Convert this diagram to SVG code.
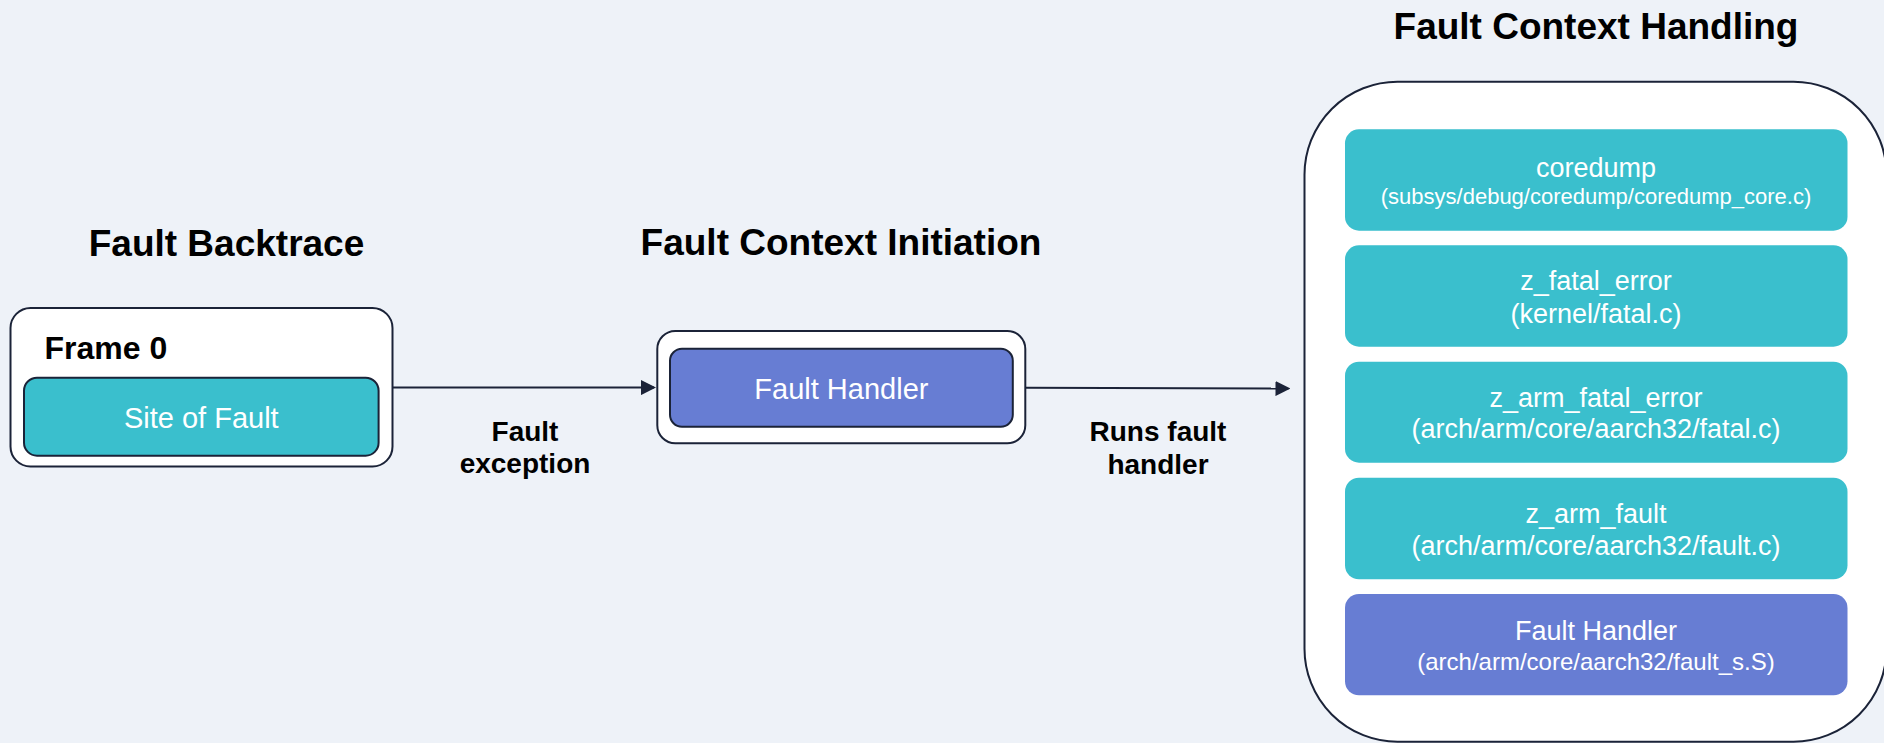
<svg xmlns="http://www.w3.org/2000/svg" width="1884" height="743" viewBox="0 0 1884 743">
  <defs>
    <marker id="arrowhead" viewBox="0 0 15 15" refX="13" refY="7.5" markerWidth="15" markerHeight="15" markerUnits="userSpaceOnUse" orient="auto">
      <path d="M0,0 L15,7.5 L0,15 Z" fill="#1b2338"/>
    </marker>
    <style>
      .title { font-family: "Liberation Sans", Arial, sans-serif; font-weight: bold; font-size: 37px; fill: #000; text-anchor: middle; }
      .label { font-family: "Liberation Sans", Arial, sans-serif; font-weight: bold; font-size: 28px; fill: #000; text-anchor: middle; }
      .frame { fill: #ffffff; stroke: #1b2338; stroke-width: 2; }
      .teal { fill: #3abfcd; }
      .purple { fill: #677dd3; }
      .edged { stroke: #1b2338; stroke-width: 2; }
      .name { font-family: "Liberation Sans", Arial, sans-serif; font-size: 27px; fill: #ffffff; text-anchor: middle; }
      .name.big { font-size: 29px; }
      .name.small { font-size: 22px; }
      .name.mid { font-size: 24px; }
      .conn { fill: none; stroke: #1b2338; stroke-width: 2; marker-end: url(#arrowhead); }
    </style>
  </defs>

  <rect width="1884" height="743" fill="#eef2f8"/>

  <!-- Column headings -->
  <text class="title" x="226.5" y="256">Fault Backtrace</text>
  <text class="title" x="841" y="255">Fault Context Initiation</text>
  <text class="title" x="1596" y="38.5">Fault Context Handling</text>

  <!-- Backtrace frame -->
  <g id="frame0">
    <rect class="frame" x="10.5" y="308" width="382" height="158.5" rx="20"/>
    <text x="44.5" y="359.3" font-family="Liberation Sans, Arial, sans-serif" font-weight="bold" font-size="32" fill="#000">Frame 0</text>
    <g id="site-of-fault">
      <rect class="teal edged" x="24" y="377.7" width="354.6" height="78" rx="13"/>
      <text class="name big" x="201.3" y="427.7">Site of Fault</text>
    </g>
  </g>

  <!-- Initiation stage -->
  <g id="initiation">
    <rect class="frame" x="657.3" y="331" width="368" height="112.3" rx="18"/>
    <g id="fault-handler-entry">
      <rect class="purple edged" x="670" y="348.7" width="342.8" height="78" rx="12"/>
      <text class="name big" x="841.4" y="399">Fault Handler</text>
    </g>
  </g>

  <!-- Handling stack -->
  <g id="handling">
    <rect class="frame" x="1304.5" y="81.7" width="582" height="660" rx="93"/>
    <g id="coredump">
      <rect class="teal" x="1345" y="129.3" width="502.5" height="101.4" rx="14"/>
      <text class="name" x="1596" y="176.7">coredump</text>
      <text class="name small" x="1596" y="204">(subsys/debug/coredump/coredump_core.c)</text>
    </g>
    <g id="z-fatal-error">
      <rect class="teal" x="1345" y="245.3" width="502.5" height="101.4" rx="14"/>
      <text class="name" x="1596" y="290">z_fatal_error</text>
      <text class="name" x="1596" y="322.7">(kernel/fatal.c)</text>
    </g>
    <g id="z-arm-fatal-error">
      <rect class="teal" x="1345" y="361.7" width="502.5" height="101" rx="14"/>
      <text class="name" x="1596" y="406.7">z_arm_fatal_error</text>
      <text class="name" x="1596" y="438.3">(arch/arm/core/aarch32/fatal.c)</text>
    </g>
    <g id="z-arm-fault">
      <rect class="teal" x="1345" y="477.7" width="502.5" height="101.6" rx="14"/>
      <text class="name" x="1596" y="523.3">z_arm_fault</text>
      <text class="name" x="1596" y="555">(arch/arm/core/aarch32/fault.c)</text>
    </g>
    <g id="fault-handler-asm">
      <rect class="purple" x="1345" y="594" width="502.5" height="101.3" rx="14"/>
      <text class="name" x="1596" y="640">Fault Handler</text>
      <text class="name mid" x="1596" y="670">(arch/arm/core/aarch32/fault_s.S)</text>
    </g>
  </g>

  <!-- Connectors -->
  <g id="connectors">
    <path class="conn" d="M392.5,387.6 L654,387.6"/>
    <text class="label" x="525" y="440.7">Fault</text>
    <text class="label" x="525" y="472.7">exception</text>

    <path class="conn" d="M1025.5,387.7 L1288.5,388.6"/>
    <text class="label" x="1158" y="440.7">Runs fault</text>
    <text class="label" x="1158" y="474">handler</text>
  </g>
</svg>
